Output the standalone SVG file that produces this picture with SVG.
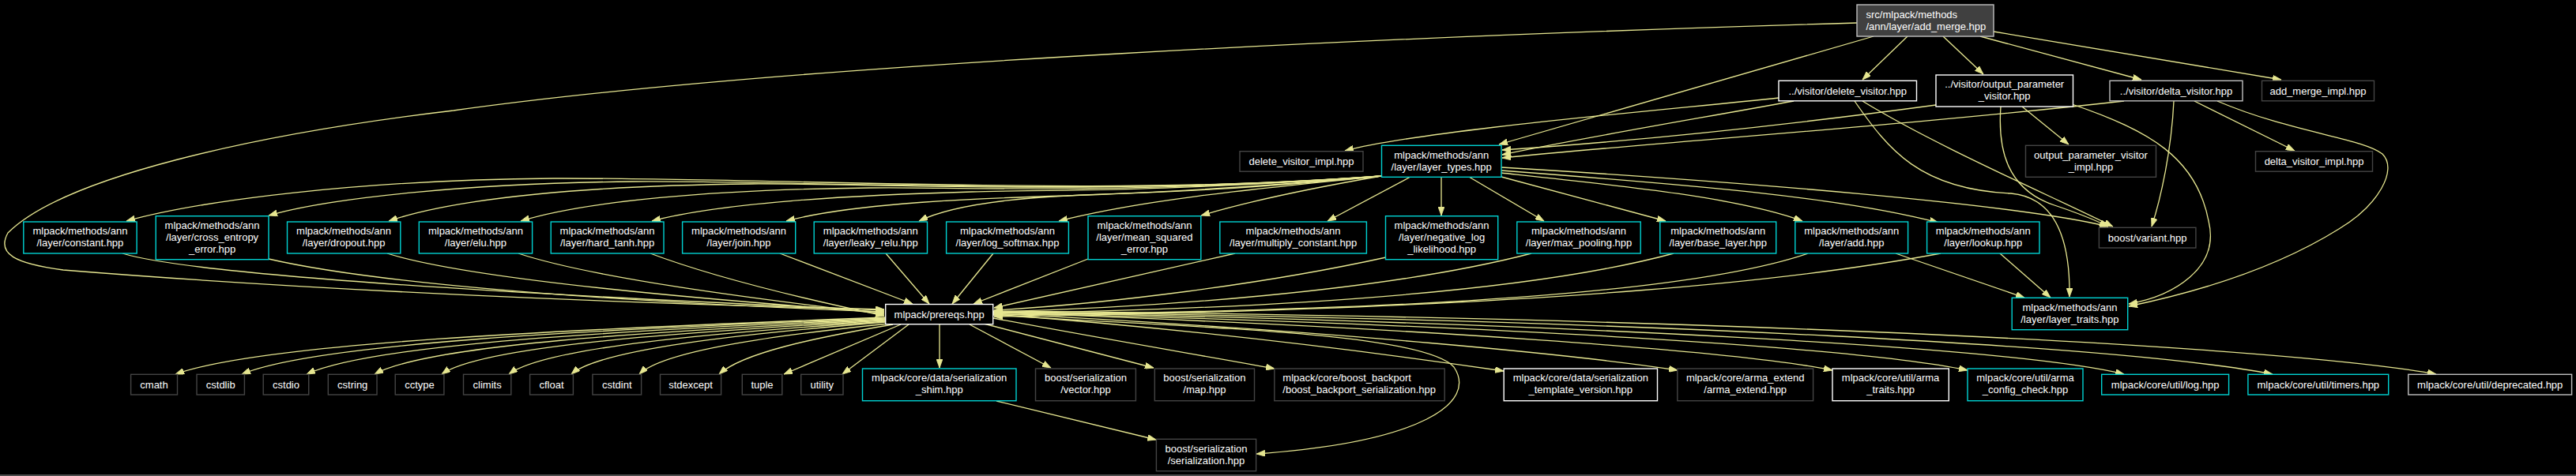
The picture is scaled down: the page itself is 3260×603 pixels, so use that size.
<svg xmlns="http://www.w3.org/2000/svg" width="3260" height="603" viewBox="0 0 3260 603">
<style>
rect.b{fill:#000;stroke-width:1.4}
.cy{stroke:#00d2d2}
.wh{stroke:#ffffff}
.lg{stroke:#bfbfbf}
.dg{stroke:#444444}
text{font-family:"Liberation Sans",Arial,Helvetica,sans-serif;font-size:13px;fill:#ffffff;text-anchor:middle}
text.l{text-anchor:start}
#edges path{fill:none;stroke:#e6e690;stroke-width:1.3;marker-end:url(#ah)}
</style>
<defs>
<marker id="ah" markerWidth="11" markerHeight="8" refX="11" refY="4" orient="auto" markerUnits="userSpaceOnUse"><path d="M0,0 L11,4 L0,8 z" fill="#e6e690" stroke="#e6e690" stroke-width="0.8"/></marker>
</defs>
<rect x="0" y="0" width="3260" height="603" fill="#000"/>
<rect x="0" y="601" width="3260" height="2" fill="#4d4d4d"/>

<g id="edges">
<!-- add_merge -->
<path d="M2350,29 C1800,45 1000,80 574,140 C320,170 80,225 10,295 C-5,322 20,334 80,342 C400,368 800,385 1119,392"/>
<path d="M2371,46 L1897,183"/>
<path d="M2414,46 L2357,101"/>
<path d="M2459,46 L2510,94"/>
<path d="M2506,46 L2710,101"/>
<path d="M2523,40 L2887,101"/>
<!-- delete_visitor -->
<path d="M2251,124 C2100,140 1800,165 1702,191"/>
<path d="M2270,128 C2150,150 2000,175 1901,196"/>
<path d="M2357,128 C2450,185 2600,250 2674,287"/>
<path d="M2347,128 C2390,190 2430,240 2545,245 C2600,250 2620,300 2619,376"/>
<!-- output_parameter_visitor -->
<path d="M2450,133 C2250,160 2050,180 1901,190"/>
<path d="M2532,135 C2528,190 2540,240 2600,260 C2630,270 2650,278 2668,287"/>
<path d="M2559,135 L2618,183"/>
<path d="M2622,132 C2720,165 2780,200 2795,280 C2810,340 2750,375 2694,385"/>
<!-- delta_visitor -->
<path d="M2688,128 C2400,160 2100,180 1901,200"/>
<path d="M2751,128 C2748,190 2735,250 2723,287"/>
<path d="M2777,128 L2904,191"/>
<path d="M2806,128 C2900,168 2990,175 3015,195 C3035,215 3010,260 2960,290 C2880,340 2780,370 2694,388"/>
<!-- layer_types -> layers -->
<path d="M1748,223 C1400,250 1000,225 700,226 C450,228 250,255 160,280"/>
<path d="M1748,223 C1400,250 1000,228 800,230 C600,232 420,250 340,273"/>
<path d="M1748,223 C1400,248 1100,232 950,233 C750,235 580,250 492,280"/>
<path d="M1748,223 C1400,248 1200,236 1100,238 C900,240 740,255 659,280"/>
<path d="M1748,223 C1450,245 1300,240 1230,243 C1050,248 900,260 825,280"/>
<path d="M1748,223 C1500,245 1400,245 1350,248 C1200,252 1070,260 995,280"/>
<path d="M1748,223 C1550,242 1450,244 1350,248 C1270,252 1200,262 1163,280"/>
<path d="M1748,223 C1600,238 1450,252 1340,280"/>
<path d="M1748,223 C1650,240 1580,255 1520,273"/>
<path d="M1785,224 L1680,280"/>
<path d="M1824,224 L1824,273"/>
<path d="M1859,224 L1954,280"/>
<path d="M1900,224 L2108,280"/>
<path d="M1900,219 C2050,235 2200,250 2281,280"/>
<path d="M1900,216 C2150,235 2330,250 2453,282"/>
<path d="M1900,212 C2200,230 2550,258 2668,287"/>
<!-- layers -> prereqs -->
<path d="M155,321 C250,350 700,375 1119,393"/>
<path d="M340,328 C500,365 850,385 1119,395"/>
<path d="M490,321 C600,355 900,380 1119,396"/>
<path d="M656,321 C750,352 950,378 1119,398"/>
<path d="M823,321 C900,350 1000,375 1119,400"/>
<path d="M987,321 L1155,385"/>
<path d="M1121,321 L1176,385"/>
<path d="M1257,321 L1205,385"/>
<path d="M1377,328 L1232,385"/>
<path d="M1563,321 L1258,390"/>
<path d="M1754,326 C1600,360 1400,385 1258,393"/>
<path d="M1938,321 C1750,370 1450,390 1258,395"/>
<path d="M2118,321 C1900,380 1500,393 1258,397"/>
<path d="M2288,321 C2100,385 1600,395 1258,399"/>
<path d="M2456,321 C2300,350 2000,390 1258,401"/>
<!-- add, lookup -> layer_traits -->
<path d="M2399,321 L2562,377"/>
<path d="M2531,321 L2595,377"/>
<!-- prereqs -> bottom -->
<path d="M1121,402 C698,418 330,435 222,474"/>
<path d="M1121,403 C740,418 400,435 306,474"/>
<path d="M1121,404 C780,419 470,436 388,474"/>
<path d="M1121,405 C820,420 540,437 474,474"/>
<path d="M1121,406 C860,421 610,438 559,474"/>
<path d="M1121,407 C900,422 690,440 644,474"/>
<path d="M1121,408 C940,423 760,442 723,474"/>
<path d="M1124,410 C980,425 840,444 809,474"/>
<path d="M1130,411 C1030,428 940,447 910,474"/>
<path d="M1140,411 L992,474"/>
<path d="M1150,411 L1066,474"/>
<path d="M1189,411 L1189,466"/>
<path d="M1227,411 L1330,466"/>
<path d="M1245,410 L1460,466"/>
<path d="M1257,403 C1400,430 1520,450 1613,467"/>
<path d="M1257,399 C1500,415 1800,420 1840,465 C1870,510 1800,560 1590,575"/>
<path d="M1257,398 C1550,420 1800,455 1903,470"/>
<path d="M1257,397 C1700,420 2000,450 2123,469"/>
<path d="M1257,396 C1800,415 2200,445 2319,469"/>
<path d="M1257,396 C1900,412 2350,440 2490,469"/>
<path d="M1257,395 C2000,410 2550,440 2688,474"/>
<path d="M1257,395 C2100,405 2700,440 2876,474"/>
<path d="M1257,394 C2200,402 2900,440 3083,474"/>
<path d="M1261,508 L1463,557"/>
</g>

<!-- top -->
<g id="n_add_merge"><rect x="2350" y="6" width="173" height="40" style="fill:#404040;stroke:#bfbfbf;stroke-width:1.4"/><text class="l" x="2361.5" y="22.5">src/mlpack/methods</text><text class="l" x="2361.5" y="37.5">/ann/layer/add_merge.hpp</text></g>
<g id="n_delete_visitor"><rect class="b wh" x="2251" y="102.3" width="174.5" height="25.5"/><text x="2338.2" y="119.7">../visitor/delete_visitor.hpp</text></g>
<g id="n_output_parameter_visitor"><rect class="b wh" x="2450" y="95" width="173.5" height="40"/><text x="2536.7" y="111.3">../visitor/output_parameter</text><text x="2536.7" y="126.3">_visitor.hpp</text></g>
<g id="n_delta_visitor"><rect class="b lg" x="2670" y="102.3" width="168" height="25.5"/><text x="2754" y="119.7">../visitor/delta_visitor.hpp</text></g>
<g id="n_add_merge_impl"><rect class="b dg" x="2862.5" y="102.3" width="142" height="25.5"/><text x="2933.5" y="119.7">add_merge_impl.hpp</text></g>
<g id="n_output_parameter_visitor_impl"><rect class="b dg" x="2563.5" y="184.3" width="165" height="40"/><text x="2646" y="200.5">output_parameter_visitor</text><text x="2646" y="215.5">_impl.hpp</text></g>
<g id="n_delta_visitor_impl"><rect class="b dg" x="2854.5" y="191.7" width="148" height="25.5"/><text x="2928.5" y="209">delta_visitor_impl.hpp</text></g>
<g id="n_delete_visitor_impl"><rect class="b dg" x="1569" y="191.7" width="156" height="25.5"/><text x="1647" y="209">delete_visitor_impl.hpp</text></g>
<g id="n_layer_types"><rect class="b cy" x="1748.5" y="184.3" width="151.5" height="40"/><text x="1824.2" y="200.5">mlpack/methods/ann</text><text x="1824.2" y="215.5">/layer/layer_types.hpp</text></g>

<!-- middle row -->
<g id="n_constant"><rect class="b cy" x="29.8" y="281" width="143.3" height="40"/><text x="101.4" y="297.2">mlpack/methods/ann</text><text x="101.4" y="312.2">/layer/constant.hpp</text></g>
<g id="n_cross_entropy"><rect class="b cy" x="197.2" y="273.7" width="142.8" height="55"/><text x="268.6" y="290">mlpack/methods/ann</text><text x="268.6" y="305">/layer/cross_entropy</text><text x="268.6" y="320">_error.hpp</text></g>
<g id="n_dropout"><rect class="b cy" x="363.5" y="281" width="143.3" height="40"/><text x="435.1" y="297.2">mlpack/methods/ann</text><text x="435.1" y="312.2">/layer/dropout.hpp</text></g>
<g id="n_elu"><rect class="b cy" x="530.3" y="281" width="143.3" height="40"/><text x="601.9" y="297.2">mlpack/methods/ann</text><text x="601.9" y="312.2">/layer/elu.hpp</text></g>
<g id="n_hard_tanh"><rect class="b cy" x="697.2" y="281" width="142.8" height="40"/><text x="768.6" y="297.2">mlpack/methods/ann</text><text x="768.6" y="312.2">/layer/hard_tanh.hpp</text></g>
<g id="n_join"><rect class="b cy" x="863.6" y="281" width="143.1" height="40"/><text x="935.1" y="297.2">mlpack/methods/ann</text><text x="935.1" y="312.2">/layer/join.hpp</text></g>
<g id="n_leaky_relu"><rect class="b cy" x="1030.2" y="281" width="143.3" height="40"/><text x="1101.8" y="297.2">mlpack/methods/ann</text><text x="1101.8" y="312.2">/layer/leaky_relu.hpp</text></g>
<g id="n_log_softmax"><rect class="b cy" x="1197.6" y="281" width="154.8" height="40"/><text x="1275" y="297.2">mlpack/methods/ann</text><text x="1275" y="312.2">/layer/log_softmax.hpp</text></g>
<g id="n_mean_squared"><rect class="b cy" x="1377" y="273.7" width="142.8" height="55"/><text x="1448.4" y="290">mlpack/methods/ann</text><text x="1448.4" y="305">/layer/mean_squared</text><text x="1448.4" y="320">_error.hpp</text></g>
<g id="n_multiply_constant"><rect class="b cy" x="1543.8" y="281" width="185.6" height="40"/><text x="1636.6" y="297.2">mlpack/methods/ann</text><text x="1636.6" y="312.2">/layer/multiply_constant.hpp</text></g>
<g id="n_negative_log"><rect class="b cy" x="1753.5" y="273.7" width="142.2" height="55"/><text x="1824.6" y="290">mlpack/methods/ann</text><text x="1824.6" y="305">/layer/negative_log</text><text x="1824.6" y="320">_likelihood.hpp</text></g>
<g id="n_max_pooling"><rect class="b cy" x="1919.8" y="281" width="156.4" height="40"/><text x="1998" y="297.2">mlpack/methods/ann</text><text x="1998" y="312.2">/layer/max_pooling.hpp</text></g>
<g id="n_base_layer"><rect class="b cy" x="2100.8" y="281" width="146.9" height="40"/><text x="2174.2" y="297.2">mlpack/methods/ann</text><text x="2174.2" y="312.2">/layer/base_layer.hpp</text></g>
<g id="n_add"><rect class="b cy" x="2271.8" y="281" width="142.8" height="40"/><text x="2343.2" y="297.2">mlpack/methods/ann</text><text x="2343.2" y="312.2">/layer/add.hpp</text></g>
<g id="n_lookup"><rect class="b cy" x="2438.6" y="281" width="142.4" height="40"/><text x="2509.8" y="297.2">mlpack/methods/ann</text><text x="2509.8" y="312.2">/layer/lookup.hpp</text></g>
<g id="n_variant"><rect class="b dg" x="2656.4" y="288.3" width="122.5" height="25.7"/><text x="2717.6" y="305.8">boost/variant.hpp</text></g>
<g id="n_layer_traits"><rect class="b cy" x="2546.2" y="377.3" width="146.5" height="40.4"/><text x="2619.4" y="393.6">mlpack/methods/ann</text><text x="2619.4" y="408.6">/layer/layer_traits.hpp</text></g>
<g id="n_prereqs"><rect class="b wh" x="1120.7" y="385.5" width="136" height="25.2"/><text x="1188.7" y="402.7">mlpack/prereqs.hpp</text></g>

<!-- bottom row -->
<g id="n_cmath"><rect class="b dg" x="165.6" y="474.3" width="58.9" height="25.7"/><text x="195" y="491.8">cmath</text></g>
<g id="n_cstdlib"><rect class="b dg" x="249" y="474.3" width="60.4" height="25.7"/><text x="279.2" y="491.8">cstdlib</text></g>
<g id="n_cstdio"><rect class="b dg" x="333.2" y="474.3" width="57.5" height="25.7"/><text x="362" y="491.8">cstdio</text></g>
<g id="n_cstring"><rect class="b dg" x="415.3" y="474.3" width="61.7" height="25.7"/><text x="446.2" y="491.8">cstring</text></g>
<g id="n_cctype"><rect class="b dg" x="500.2" y="474.3" width="61.7" height="25.7"/><text x="531" y="491.8">cctype</text></g>
<g id="n_climits"><rect class="b dg" x="586.5" y="474.3" width="60.3" height="25.7"/><text x="616.6" y="491.8">climits</text></g>
<g id="n_cfloat"><rect class="b dg" x="670.6" y="474.3" width="54.8" height="25.7"/><text x="698" y="491.8">cfloat</text></g>
<g id="n_cstdint"><rect class="b dg" x="749.9" y="474.3" width="61.7" height="25.7"/><text x="780.8" y="491.8">cstdint</text></g>
<g id="n_stdexcept"><rect class="b dg" x="835.5" y="474.3" width="77.1" height="25.7"/><text x="874" y="491.8">stdexcept</text></g>
<g id="n_tuple"><rect class="b dg" x="939.3" y="474.3" width="50.5" height="25.7"/><text x="964.5" y="491.8">tuple</text></g>
<g id="n_utility"><rect class="b dg" x="1013.7" y="474.3" width="53.3" height="25.7"/><text x="1040.3" y="491.8">utility</text></g>
<g id="n_serialization_shim"><rect class="b cy" x="1091.5" y="467" width="194.5" height="40.7"/><text x="1188.7" y="483.4">mlpack/core/data/serialization</text><text x="1188.7" y="498.4">_shim.hpp</text></g>
<g id="n_vector"><rect class="b dg" x="1310.5" y="467" width="126.9" height="40.7"/><text x="1374" y="483.4">boost/serialization</text><text x="1374" y="498.4">/vector.hpp</text></g>
<g id="n_map"><rect class="b dg" x="1461.3" y="467" width="126.2" height="40.7"/><text x="1524.4" y="483.4">boost/serialization</text><text x="1524.4" y="498.4">/map.hpp</text></g>
<g id="n_boost_backport"><rect class="b dg" x="1612.8" y="467" width="215.4" height="40.7"/><text class="l" x="1623.3" y="483.4">mlpack/core/boost_backport</text><text class="l" x="1623.3" y="498.4">/boost_backport_serialization.hpp</text></g>
<g id="n_template_version"><rect class="b wh" x="1903.2" y="467" width="194.3" height="40.7"/><text x="2000.3" y="483.4">mlpack/core/data/serialization</text><text x="2000.3" y="498.4">_template_version.hpp</text></g>
<g id="n_arma_extend"><rect class="b dg" x="2122.8" y="467" width="171.8" height="40.7"/><text x="2208.7" y="483.4">mlpack/core/arma_extend</text><text x="2208.7" y="498.4">/arma_extend.hpp</text></g>
<g id="n_arma_traits"><rect class="b wh" x="2319" y="467" width="147.3" height="40.7"/><text x="2392.6" y="483.4">mlpack/core/util/arma</text><text x="2392.6" y="498.4">_traits.hpp</text></g>
<g id="n_arma_config_check"><rect class="b cy" x="2490" y="467" width="146" height="40.7"/><text x="2563" y="483.4">mlpack/core/util/arma</text><text x="2563" y="498.4">_config_check.hpp</text></g>
<g id="n_log"><rect class="b cy" x="2659.7" y="474.3" width="160.9" height="25.7"/><text x="2740.1" y="491.8">mlpack/core/util/log.hpp</text></g>
<g id="n_timers"><rect class="b cy" x="2844.9" y="474.3" width="177.8" height="25.7"/><text x="2933.8" y="491.8">mlpack/core/util/timers.hpp</text></g>
<g id="n_deprecated"><rect class="b lg" x="3047.8" y="474.3" width="206.8" height="25.7"/><text x="3151.2" y="491.8">mlpack/core/util/deprecated.hpp</text></g>
<g id="n_serialization"><rect class="b dg" x="1463.4" y="556.3" width="126.2" height="40.4"/><text x="1526.5" y="572.6">boost/serialization</text><text x="1526.5" y="587.6">/serialization.hpp</text></g>
</svg>
